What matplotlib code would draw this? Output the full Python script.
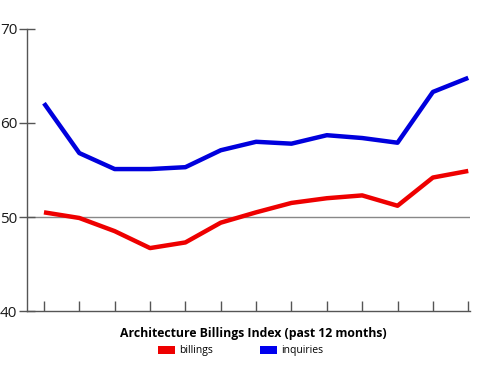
"""Architecture Billings Index, past 12 months
"""

import matplotlib
matplotlib.use('Agg')
import matplotlib.pyplot as plt
from matplotlib.patches import Patch

months = list(range(13))
billings = [50.5, 49.9, 48.5, 46.7, 47.3, 49.4, 50.5, 51.5, 52.0, 52.3, 51.2, 54.2, 54.9]
inquiries = [62.1, 56.8, 55.1, 55.1, 55.3, 57.1, 58.0, 57.8, 58.7, 58.4, 57.9, 63.3, 64.8]
y_ticks = [40, 50, 60, 70]

plt.rcParams['font.family'] = ['Open Sans', 'DejaVu Sans']

fig = plt.figure(figsize=(4.89, 3.66), dpi=100)
ax = fig.add_axes([0.0552, 0.150, 0.906, 0.771])

ax.axhline(50, color='#888888', lw=1.0, zorder=1)
ax.plot(months, inquiries, color='#0000dd', lw=3.2, solid_capstyle='butt', zorder=3)
ax.plot(months, billings, color='#ee0000', lw=3.2, solid_capstyle='butt', zorder=3)

ax.set_xlim(-0.48, 12.05)
ax.set_ylim(40, 70)
ax.set_xticks(months)
ax.set_xticklabels([])
ax.set_yticks(y_ticks)

for side in ['top', 'right']:
    ax.spines[side].set_visible(False)
for side in ['left', 'bottom']:
    ax.spines[side].set_color('#555555')
    ax.spines[side].set_linewidth(1.0)

ax.tick_params(axis='x', direction='in', length=7, color='#555555', width=1)
ax.tick_params(axis='y', direction='inout', length=12, color='#555555', width=1,
               labelsize=11, pad=1, labelcolor='#1a1a1a')
plt.setp(ax.get_yticklabels(), va='center_baseline')

fig.text(0.517, 0.090, 'Architecture Billings Index (past 12 months)',
         ha='center', va='center', fontsize=8.8, fontweight='bold')

handles = [Patch(facecolor='#ee0000', label='billings'),
           Patch(facecolor='#0000ee', label='inquiries')]
fig.legend(handles=handles, loc='center', bbox_to_anchor=(0.492, 0.041), ncol=2,
           frameon=False, fontsize=7.5, handlelength=1.6, handleheight=0.9,
           columnspacing=4.5, handletextpad=0.4)

fig.savefig('out.png', dpi=100)
